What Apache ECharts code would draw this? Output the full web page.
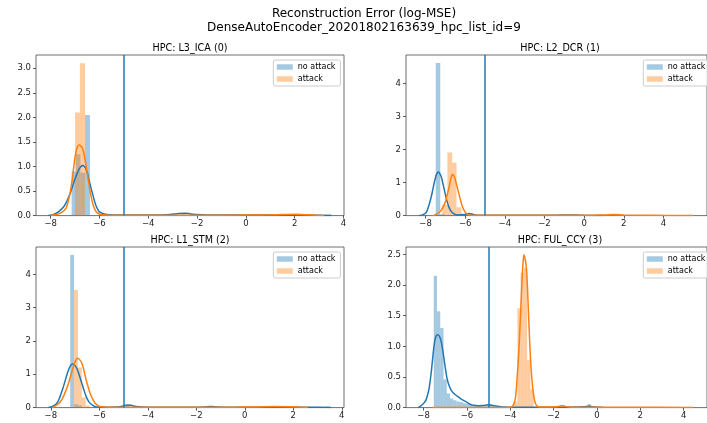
<!DOCTYPE html>
<html><head><meta charset="utf-8">
<script src="https://cdn.jsdelivr.net/npm/echarts@6/dist/echarts.min.js"></script>
<style>html,body{margin:0;padding:0;background:#fff}#c{width:707px;height:423px}</style>
</head><body><div id="c"></div>
<script>
// ---------- text ----------
const suptitle = ['Reconstruction Error (log-MSE)', 'DenseAutoEncoder_20201802163639_hpc_list_id=9'];
const panelTitles = ['HPC: L3_ICA (0)', 'HPC: L2_DCR (1)', 'HPC: L1_STM (2)', 'HPC: FUL_CCY (3)'];
const seriesNames = ['no attack', 'attack'];
const threshold = -5;

// ---------- axes ----------
const xTicks = [-8, -6, -4, -2, 0, 2, 4];
const yTicksP1 = [0, 0.5, 1, 1.5, 2, 2.5, 3];
const yTicksP2 = [0, 1, 2, 3, 4];
const yTicksP3 = [0, 1, 2, 3, 4];
const yTicksP4 = [0, 0.5, 1, 1.5, 2, 2.5];
const xMins = [-8.6, -8.99, -8.61, -8.81];
const xMaxs = [4.02, 6.2, 4.09, 5.08];
const yMaxs = [3.27, 4.87, 4.82, 2.62];

// ---------- histograms: [left edge, right edge, density] ----------
const p1BlueHist = [[-7.14,-6.96,0.9],[-6.96,-6.78,1.25],[-6.78,-6.59,0.87],[-6.59,-6.39,2.05],[-2.65,-2.45,0.03],[3.3,3.5,0.02]];
const p1OrangeHist = [[-7.0,-6.8,2.1],[-6.8,-6.59,3.1],[1.9,2.1,0.02]];

const p2BlueHist = [[-7.49,-7.26,4.63],[-7.26,-7.03,0.04],[-5.83,-5.6,0.08]];
const p2OrangeHist = [[-7.18,-6.9,0.33],[-6.9,-6.66,1.91],[-6.66,-6.44,1.6],[-6.44,-6.19,0.25],[-6.19,-5.95,0.06]];

const p3BlueHist = [[-7.2,-7.04,4.58],[-7.04,-6.88,0.1],[-6.88,-6.72,0.06],[-4.9,-4.74,0.08],[3.34,3.5,0.03]];
const p3OrangeHist = [[-7.04,-6.88,3.53],[-6.88,-6.72,1.2],[-6.72,-6.56,0.3],[-6.56,-6.4,0.06]];

const p4BlueHist = [[-7.53,-7.38,2.15],[-7.38,-7.23,1.57],[-7.23,-7.08,1.3],[-7.08,-6.93,0.46],[-6.93,-6.78,0.23],
  [-6.78,-6.63,0.15],[-6.63,-6.48,0.12],[-6.48,-6.33,0.1],[-6.33,-6.18,0.09],[-6.18,-6.03,0.07],[-6.03,-5.88,0.06],
  [-5.88,-5.73,0.05],[-5.73,-5.58,0.04],[-5.58,-5.43,0.03],[-5.43,-5.28,0.03],[-5.28,-5.13,0.02],[-5.13,-4.98,0.04],
  [-4.98,-4.83,0.05],[-4.83,-4.68,0.02],[-0.43,-0.28,0.06]];
const p4OrangeHist = [[-3.82,-3.67,0.1],[-3.67,-3.52,1.62],[-3.52,-3.37,2.2],[-3.37,-3.22,2.28],[-3.22,-3.07,0.78],[-3.07,-2.92,0.3],[-1.7,-1.55,0.02]];

// ---------- density curves: [x, density] ----------
const p1BlueKde = [[-8.1,0],[-7.9,0.02],[-7.7,0.07],[-7.48,0.17],[-7.34,0.29],[-7.21,0.44],[-7.1,0.6],[-7.0,0.75],[-6.91,0.86],[-6.83,0.95],[-6.76,1.0],[-6.69,1.02],[-6.62,1.0],[-6.55,0.95],[-6.48,0.84],[-6.42,0.71],[-6.35,0.57],[-6.28,0.44],[-6.21,0.31],[-6.14,0.2],[-6.06,0.12],[-5.98,0.07],[-5.85,0.04],[-5.7,0.02],[-5.4,0.012],[-5.0,0.01],[-4.2,0.01],[-3.5,0.012],[-3.1,0.02],[-2.8,0.04],[-2.5,0.05],[-2.25,0.035],[-2.0,0.02],[-1.6,0.012],[-1.0,0.01],[0.0,0.01],[1.0,0.01],[2.0,0.01],[3.0,0.008],[3.5,0.0]];
const p1OrangeKde = [[-8.0,0],[-7.85,0.015],[-7.7,0.03],[-7.5,0.08],[-7.42,0.12],[-7.35,0.17],[-7.24,0.37],[-7.14,0.65],[-7.07,0.92],[-7.0,1.19],[-6.95,1.32],[-6.9,1.4],[-6.83,1.44],[-6.75,1.41],[-6.7,1.37],[-6.66,1.32],[-6.59,1.14],[-6.52,0.92],[-6.45,0.71],[-6.39,0.51],[-6.32,0.34],[-6.25,0.2],[-6.17,0.11],[-6.1,0.06],[-6.0,0.03],[-5.9,0.015],[-5.6,0.008],[-4.0,0.005],[-2.0,0.007],[0.0,0.01],[1.0,0.015],[1.5,0.02],[2.0,0.03],[2.5,0.015],[2.9,0.008],[3.2,0.0]];

const p2BlueKde = [[-8.33,0],[-8.2,0.015],[-8.1,0.04],[-7.97,0.1],[-7.85,0.28],[-7.72,0.56],[-7.64,0.78],[-7.56,1.01],[-7.5,1.15],[-7.45,1.25],[-7.4,1.3],[-7.36,1.32],[-7.31,1.3],[-7.27,1.26],[-7.22,1.19],[-7.18,1.11],[-7.1,0.9],[-7.01,0.66],[-6.92,0.44],[-6.82,0.25],[-6.7,0.12],[-6.57,0.05],[-6.45,0.025],[-6.32,0.02],[-6.15,0.025],[-6.0,0.035],[-5.8,0.06],[-5.65,0.04],[-5.5,0.02],[-5.2,0.012],[-5.0,0.01],[-3.0,0.01],[-2.0,0.01],[-1.2,0.015],[-0.8,0.02],[-0.4,0.015],[0.0,0.01],[1.0,0.0]];
const p2OrangeKde = [[-7.64,0],[-7.5,0.03],[-7.4,0.06],[-7.31,0.1],[-7.23,0.15],[-7.1,0.28],[-6.98,0.46],[-6.9,0.65],[-6.82,0.86],[-6.77,1.0],[-6.72,1.13],[-6.68,1.21],[-6.65,1.25],[-6.61,1.24],[-6.57,1.2],[-6.53,1.14],[-6.49,1.06],[-6.41,0.87],[-6.32,0.66],[-6.23,0.45],[-6.13,0.25],[-6.02,0.12],[-5.91,0.05],[-5.79,0.02],[-5.67,0.01],[-3.0,0.01],[0.0,0.01],[1.0,0.02],[1.5,0.03],[2.0,0.02],[3.5,0.01],[5.5,0.0]];

const p3BlueKde = [[-8.1,0.0],[-8.0,0.02],[-7.9,0.05],[-7.75,0.13],[-7.62,0.33],[-7.48,0.63],[-7.37,0.9],[-7.27,1.13],[-7.19,1.25],[-7.11,1.31],[-7.02,1.28],[-6.93,1.18],[-6.83,0.98],[-6.72,0.73],[-6.63,0.52],[-6.54,0.33],[-6.46,0.21],[-6.38,0.13],[-6.27,0.07],[-6.17,0.03],[-6.0,0.015],[-5.8,0.01],[-5.4,0.015],[-5.1,0.035],[-4.95,0.06],[-4.8,0.08],[-4.65,0.06],[-4.5,0.03],[-4.2,0.015],[-3.5,0.01],[-2.0,0.01],[-1.7,0.015],[-1.4,0.03],[-1.1,0.015],[-0.5,0.01],[1.0,0.01],[3.0,0.01],[3.55,0.0]];
const p3OrangeKde = [[-7.95,0],[-7.85,0.03],[-7.75,0.08],[-7.65,0.14],[-7.55,0.23],[-7.41,0.45],[-7.27,0.73],[-7.17,0.98],[-7.07,1.23],[-6.98,1.4],[-6.9,1.48],[-6.81,1.44],[-6.72,1.33],[-6.63,1.1],[-6.54,0.83],[-6.46,0.62],[-6.38,0.43],[-6.27,0.25],[-6.17,0.13],[-6.06,0.06],[-5.96,0.03],[-5.75,0.015],[-5.5,0.01],[-3.0,0.01],[-1.0,0.01],[0.0,0.015],[0.5,0.02],[1.2,0.03],[1.8,0.025],[2.2,0.015],[2.6,0.0]];

const p4BlueKde = [[-8.25,0],[-8.15,0.02],[-8.05,0.05],[-7.95,0.09],[-7.88,0.13],[-7.82,0.2],[-7.75,0.3],[-7.7,0.42],[-7.65,0.56],[-7.58,0.8],[-7.5,1.05],[-7.43,1.16],[-7.35,1.19],[-7.28,1.17],[-7.2,1.1],[-7.12,0.95],[-7.05,0.78],[-6.98,0.61],[-6.9,0.45],[-6.8,0.34],[-6.68,0.26],[-6.53,0.21],[-6.38,0.17],[-6.22,0.13],[-6.07,0.1],[-5.92,0.07],[-5.78,0.045],[-5.62,0.035],[-5.47,0.03],[-5.25,0.035],[-5.02,0.045],[-4.87,0.04],[-4.72,0.03],[-4.5,0.018],[-4.27,0.01],[-3.5,0.006],[-3.0,0.005],[-2.0,0.006],[-1.0,0.01],[-0.6,0.015],[-0.35,0.02],[-0.1,0.01],[0.3,0.0]];
const p4OrangeKde = [[-7.6,0],[-5.0,0.0],[-4.1,0.0],[-4.0,0.008],[-3.9,0.02],[-3.82,0.07],[-3.75,0.18],[-3.68,0.5],[-3.6,0.94],[-3.52,1.55],[-3.44,2.19],[-3.4,2.4],[-3.37,2.49],[-3.32,2.44],[-3.26,2.3],[-3.21,2.0],[-3.17,1.65],[-3.12,1.22],[-3.07,0.83],[-3.01,0.5],[-2.95,0.29],[-2.88,0.12],[-2.8,0.04],[-2.7,0.015],[-2.6,0.01],[-2.2,0.008],[-1.9,0.012],[-1.75,0.02],[-1.6,0.03],[-1.45,0.02],[-1.3,0.01],[-0.8,0.006],[0.0,0.005],[2.0,0.005],[4.45,0.0]];

const blueHists = [p1BlueHist, p2BlueHist, p3BlueHist, p4BlueHist];
const orangeHists = [p1OrangeHist, p2OrangeHist, p3OrangeHist, p4OrangeHist];
const blueKdes = [p1BlueKde, p2BlueKde, p3BlueKde, p4BlueKde];
const orangeKdes = [p1OrangeKde, p2OrangeKde, p3OrangeKde, p4OrangeKde];
const yTicks = [yTicksP1, yTicksP2, yTicksP3, yTicksP4];

// ---------- styling / layout ----------
const BLUE = '#1f77b4', ORANGE = '#ff7f0e';
const BLUE_A = 'rgba(31,119,180,0.4)', ORANGE_A = 'rgba(255,127,14,0.4)';
const FONT = 'DejaVu Sans';
const gridLefts = [36, 406, 36, 406];
const gridTops = [55, 55, 247, 247];
const gridWidth = 308, gridHeight = 160.6;
const titleTops = [42.8, 42.8, 235.2, 235.2];

const fmtMinus = v => (v < 0 ? '\u2212' + Math.abs(v) : String(v));
const fmtDec = v => (v < 0 ? '\u2212' : '') + Math.abs(v).toFixed(1);

function histRender(params, api) {
  const a = api.coord([api.value(0), api.value(2)]);
  const b = api.coord([api.value(1), 0]);
  return { type: 'rect', shape: { x: a[0], y: a[1], width: b[0] - a[0], height: b[1] - a[1] },
           style: { fill: api.visual('color') } };
}

const chart = echarts.init(document.getElementById('c'), null, { renderer: 'canvas', width: 707, height: 423 });

const titles = [{
  text: suptitle.join('\n'), left: 364, top: 6.8, textAlign: 'center', padding: 0,
  textStyle: { fontSize: 12, fontWeight: 'normal', color: '#000', fontFamily: FONT, lineHeight: 14.3 }
}];
panelTitles.forEach((t, i) => titles.push({
  text: t, left: gridLefts[i] + gridWidth / 2, top: titleTops[i], textAlign: 'center', padding: 0,
  textStyle: { fontSize: 9.6, fontWeight: 'normal', color: '#000', fontFamily: FONT, lineHeight: 11 }
}));

const grids = [], xAxes = [], yAxes = [], legends = [], series = [];
for (let i = 0; i < 4; i++) {
  grids.push({ left: gridLefts[i], top: gridTops[i], width: gridWidth, height: gridHeight,
               show: true, borderColor: '#4a4a4a', borderWidth: 0.8, backgroundColor: 'transparent' });
  xAxes.push({ type: 'value', gridIndex: i, min: xMins[i], max: xMaxs[i],
    splitLine: { show: false }, axisLine: { show: false, onZero: false },
    axisTick: { show: true, length: 3, lineStyle: { color: '#333', width: 0.8 }, customValues: xTicks },
    axisLabel: { customValues: xTicks, formatter: fmtMinus, fontSize: 8.5, color: '#222', margin: 4, fontFamily: FONT } });
  const dec = (i === 0 || i === 3);
  yAxes.push({ type: 'value', gridIndex: i, min: 0, max: yMaxs[i],
    splitLine: { show: false }, axisLine: { show: false, onZero: false },
    axisTick: { show: true, length: 3, lineStyle: { color: '#333', width: 0.8 }, customValues: yTicks[i] },
    axisLabel: { customValues: yTicks[i], formatter: dec ? fmtDec : fmtMinus, fontSize: 8.5, color: '#222', margin: 5, fontFamily: FONT } });
  legends.push({ left: gridLefts[i] + 237.3, top: gridTops[i] + 5, orient: 'vertical', selectedMode: false,
    data: [{ name: seriesNames[0], icon: 'rect', itemStyle: { color: BLUE_A } },
           { name: seriesNames[1], icon: 'rect', itemStyle: { color: ORANGE_A } }],
    itemWidth: 16, itemHeight: 5.5, itemGap: 2, padding: [2, 5, 2, 3.5],
    backgroundColor: 'rgba(255,255,255,0.8)', borderColor: '#cccccc', borderWidth: 1, borderRadius: 2,
    textStyle: { fontSize: 8, color: '#000', fontFamily: FONT, lineHeight: 10 } });

  series.push({ type: 'custom', name: seriesNames[0], xAxisIndex: i, yAxisIndex: i, clip: true,
    renderItem: histRender, encode: { x: [0, 1], y: 2 }, itemStyle: { color: BLUE_A }, data: blueHists[i] });
  series.push({ type: 'line', name: 'kde ' + seriesNames[0], xAxisIndex: i, yAxisIndex: i, data: blueKdes[i],
    smooth: 0.4, showSymbol: false, symbol: 'none', lineStyle: { color: BLUE, width: 1.5 }, itemStyle: { color: BLUE } });
  series.push({ type: 'custom', name: seriesNames[1], xAxisIndex: i, yAxisIndex: i, clip: true,
    renderItem: histRender, encode: { x: [0, 1], y: 2 }, itemStyle: { color: ORANGE_A }, data: orangeHists[i] });
  series.push({ type: 'line', name: 'kde ' + seriesNames[1], xAxisIndex: i, yAxisIndex: i, data: orangeKdes[i],
    smooth: 0.4, showSymbol: false, symbol: 'none', lineStyle: { color: ORANGE, width: 1.5 }, itemStyle: { color: ORANGE },
    markLine: { silent: true, symbol: 'none', label: { show: false },
      lineStyle: { color: BLUE, width: 1.5, type: 'solid' }, data: [{ xAxis: threshold }] } });
}

chart.setOption({
  backgroundColor: '#fff', animation: false,
  title: titles, grid: grids, xAxis: xAxes, yAxis: yAxes, legend: legends, series: series
});
</script></body></html>
